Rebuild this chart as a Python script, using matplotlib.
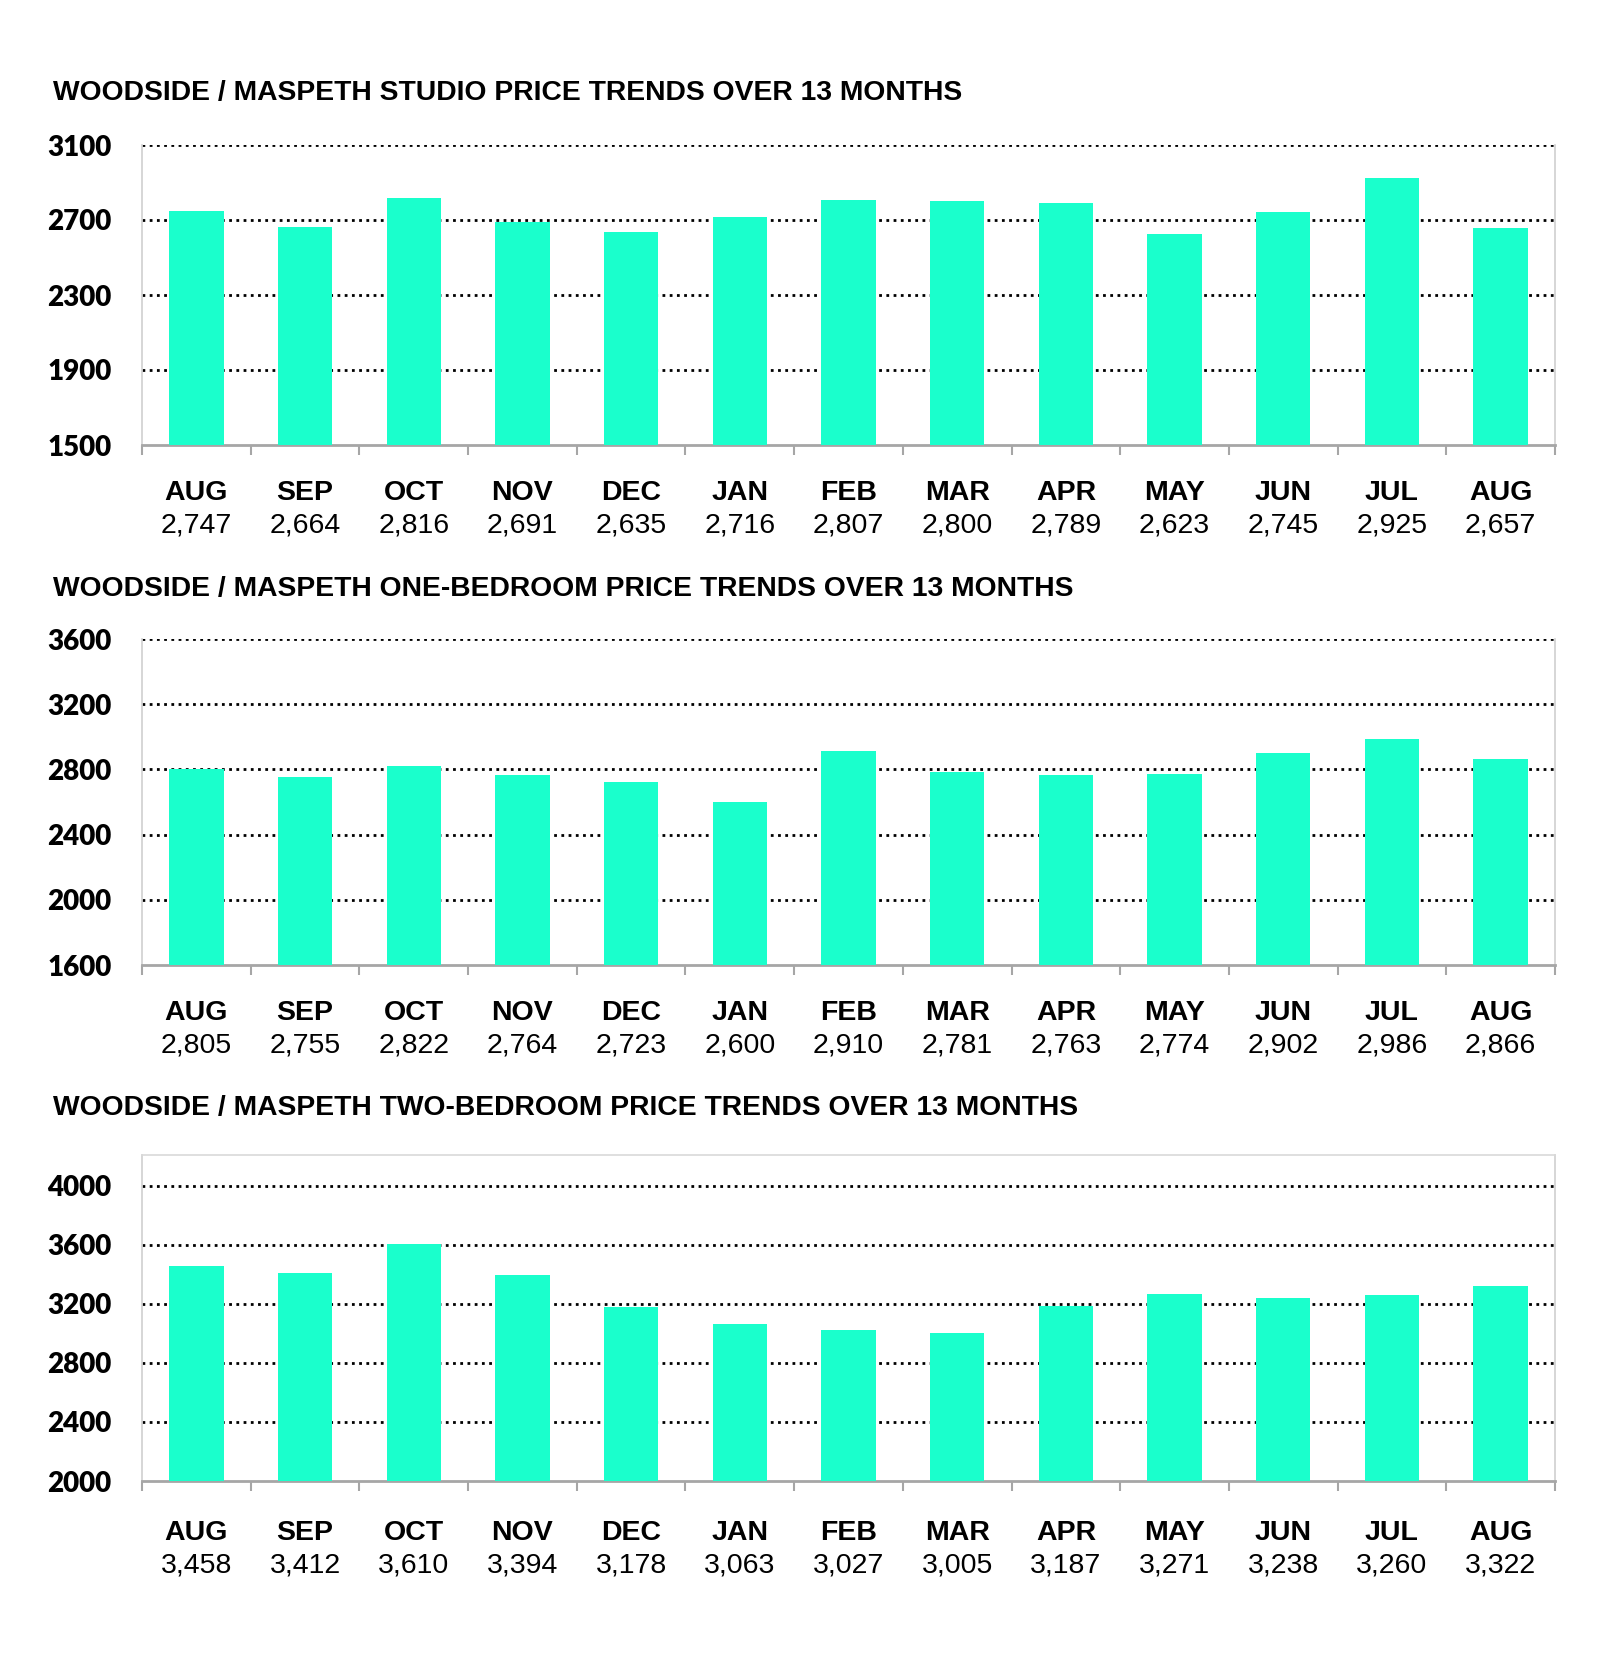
import matplotlib
matplotlib.use("Agg")
from matplotlib import pyplot as plt
import numpy as np

# data
months = ["AUG", "SEP", "OCT", "NOV", "DEC", "JAN", "FEB", "MAR", "APR", "MAY", "JUN", "JUL", "AUG"]
studio = [2747, 2664, 2816, 2691, 2635, 2716, 2807, 2800, 2789, 2623, 2745, 2925, 2657]
one_bed = [2805, 2755, 2822, 2764, 2723, 2600, 2910, 2781, 2763, 2774, 2902, 2986, 2866]
two_bed = [3458, 3412, 3610, 3394, 3178, 3063, 3027, 3005, 3187, 3271, 3238, 3260, 3322]

titles = ["WOODSIDE / MASPETH STUDIO PRICE TRENDS OVER 13 MONTHS",
          "WOODSIDE / MASPETH ONE-BEDROOM PRICE TRENDS OVER 13 MONTHS",
          "WOODSIDE / MASPETH TWO-BEDROOM PRICE TRENDS OVER 13 MONTHS"]
yticks1 = [1500, 1900, 2300, 2700, 3100]
yticks2 = [1600, 2000, 2400, 2800, 3200, 3600]
yticks3 = [2000, 2400, 2800, 3200, 3600, 4000]

bar_color = "#1affcc"
W, H = 1600, 1663

fig = plt.figure(figsize=(16, 16.63), dpi=100)

# cajas en pixeles: top, bottom, y del titulo, tope del eje
paneles = [
    (studio, yticks1, titles[0], 145, 445, 93, 3100, False),
    (one_bed, yticks2, titles[1], 639, 965, 589, 3600, False),
    (two_bed, yticks3, titles[2], 1155, 1481, 1108, 4210, True),
]

left, right = 142, 1555
for vals, yt, tit, top, bot, ty, ytop, topline in paneles:
    ax = fig.add_axes([left / W, 1 - bot / H, (right - left) / W, (bot - top) / H])
    x = np.arange(len(vals))
    ax.bar(x, vals, width=0.5, color=bar_color, zorder=3)
    ax.set_xlim(-0.5, len(vals) - 0.5)
    ax.set_ylim(yt[0], ytop)
    ax.set_yticks(yt)
    ax.set_yticklabels([str(v) for v in yt], fontsize=20, fontweight="heavy", family="Lato")
    ax.tick_params(axis="y", length=0, pad=22)
    ax.set_xticks(np.arange(len(vals) + 1) - 0.5)
    ax.set_xticklabels([])
    ax.tick_params(axis="x", length=7, width=1.5, color="#a6a6a6", direction="out")
    for v in yt[1:]:
        ax.axhline(v, color="black", lw=2, ls=(0, (1, 1.6)), zorder=2)
    for s in ["left", "right"]:
        ax.spines[s].set_color("#d0d0d0")
        ax.spines[s].set_linewidth(1.2)
    ax.spines["bottom"].set_color("#a6a6a6")
    ax.spines["bottom"].set_linewidth(2)
    ax.spines["top"].set_visible(topline)
    ax.spines["top"].set_color("#d9d9d9")
    ax.spines["top"].set_linewidth(1.2)
    off = 4 if topline else 0
    for i, v in enumerate(vals):
        ax.annotate(months[i], xy=(i, 0), xycoords=("data", "axes fraction"),
                    xytext=(0, -48 - off), textcoords="offset pixels", ha="center", va="center",
                    fontsize=20.5, fontweight="bold", family="Liberation Sans")
        ax.annotate(f"{v:,}", xy=(i, 0), xycoords=("data", "axes fraction"),
                    xytext=(0, -80 - off), textcoords="offset pixels", ha="center", va="center",
                    fontsize=20.5, family="Liberation Sans")
    fig.text(53 / W, 1 - ty / H, tit, ha="left", va="center", fontsize=20.3,
             fontweight="bold", family="Liberation Sans")

fig.savefig("out.png", dpi=100, facecolor="white")
